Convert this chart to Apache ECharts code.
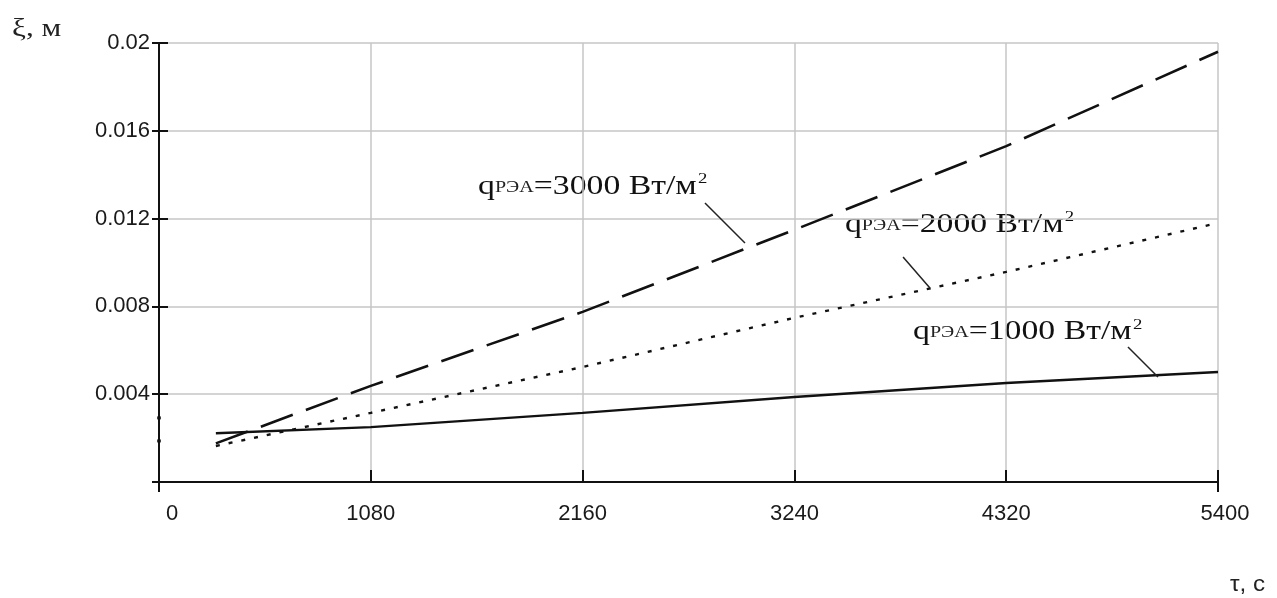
<!DOCTYPE html>
<html>
<head>
<meta charset="utf-8">
<script src="https://cdn.jsdelivr.net/npm/echarts@6/dist/echarts.min.js"></script>
<style>
  html, body { margin: 0; padding: 0; background: #fff; }
  #chart { width: 1277px; height: 598px; }
</style>
</head>
<body>
<div id="chart"></div>
<script>
// Time points, s
const timeS = [290, 1080, 2160, 3240, 4320, 5400];
// Layer thickness ξ, m, for each heat flux density
const xi1000 = [0.00222, 0.00250, 0.00315, 0.00387, 0.00451, 0.00501];
const xi2000 = [0.00164, 0.00315, 0.00524, 0.00748, 0.00957, 0.01180];
const xi3000 = [0.00176, 0.00438, 0.00775, 0.01149, 0.01530, 0.01960];
// Initial values marked on the ξ axis
const startMarks = [0.00292, 0.00187];
// Axis tick labels
const xTickLabels = ['0', '1080', '2160', '3240', '4320', '5400'];
const yTickLabels = ['', '0.004', '0.008', '0.012', '0.016', '0.02'];
// Curve captions: flux value, caption anchor [t, ξ], leader line from/to [t, ξ]
const captions = [
  { q: '3000', at: [1627, 0.01353], from: [2784, 0.01271], to: [2988, 0.01089] },
  { q: '2000', at: [3498, 0.01180], from: [3794, 0.01025], to: [3931, 0.00884] },
  { q: '1000', at: [3845, 0.00692], from: [4941, 0.00615], to: [5094, 0.00478] }
];

const pairs = (ys) => timeS.map((t, i) => [t, ys[i]]);
const leader = (c) => [[{ coord: c.from }, { coord: c.to }]];

const tickFont = 'Liberation Sans';
const serif = 'Liberation Serif';
const ink = '#111';
const labelInk = '#1a1a1a';

const chart = echarts.init(document.getElementById('chart'), null, { renderer: 'canvas' });

const option = {
  animation: false,
  backgroundColor: '#fff',
  grid: { left: 159, right: 59, top: 43, bottom: 116 },
  xAxis: [{
    type: 'value', min: 0, max: 5400, interval: 1080, position: 'bottom', offset: 3,
    axisLine: { show: true, lineStyle: { color: ink, width: 2 } },
    axisTick: { show: true, inside: true, length: 12, lineStyle: { color: ink, width: 2 } },
    splitLine: { show: true, lineStyle: { color: '#c6c6c6', width: 1.5 } },
    axisLabel: {
      margin: 18, fontFamily: tickFont, fontSize: 22, color: labelInk,
      formatter: (v) => {
        const i = Math.round(v / 1080);
        if (i === 0) return '{first|' + xTickLabels[i] + '}';
        if (i === xTickLabels.length - 1) return '{last|' + xTickLabels[i] + '}';
        return xTickLabels[i];
      },
      rich: {
        first: { fontFamily: tickFont, fontSize: 22, color: labelInk, padding: [0, 0, 0, 26] },
        last: { fontFamily: tickFont, fontSize: 22, color: labelInk, padding: [0, 0, 0, 14] }
      }
    }
  }, {
    type: 'value', min: 0, max: 5400, interval: 5400, position: 'bottom', offset: 3,
    axisLine: { show: false },
    axisTick: { show: true, length: 10, lineStyle: { color: ink, width: 2 } },
    axisLabel: { show: false },
    splitLine: { show: false }
  }],
  yAxis: [{
    type: 'value', min: 0, max: 0.02, interval: 0.004, position: 'left',
    axisLine: { show: true, lineStyle: { color: ink, width: 2 } },
    axisTick: { show: true, length: 7, lineStyle: { color: ink, width: 2 } },
    splitLine: { show: true, lineStyle: { color: '#c6c6c6', width: 1.5 } },
    axisLabel: {
      margin: 9, fontFamily: tickFont, fontSize: 22, color: labelInk,
      formatter: (v) => yTickLabels[Math.round(v / 0.004)]
    }
  }, {
    type: 'value', min: 0, max: 0.02, interval: 0.004, position: 'left',
    axisLine: { show: false },
    axisTick: { show: true, inside: true, length: 9, lineStyle: { color: ink, width: 2 } },
    axisLabel: { show: false },
    splitLine: { show: false }
  }],
  series: [
    {
      name: 'q1000', type: 'line', data: pairs(xi1000), showSymbol: false, silent: true,
      lineStyle: { color: ink, width: 2.4, type: 'solid' },
      markLine: { silent: true, symbol: ['none', 'none'], label: { show: false },
        lineStyle: { color: '#222', width: 1.5, type: 'solid' }, data: leader(captions[2]) }
    },
    {
      name: 'q2000', type: 'line', data: pairs(xi2000), showSymbol: false, silent: true,
      lineStyle: { color: ink, width: 2.4, type: [4, 9] },
      markLine: { silent: true, symbol: ['none', 'none'], label: { show: false },
        lineStyle: { color: '#222', width: 1.5, type: 'solid' }, data: leader(captions[1]) }
    },
    {
      name: 'q3000', type: 'line', data: pairs(xi3000), showSymbol: false, silent: true,
      lineStyle: { color: ink, width: 2.6, type: [34, 14] },
      markLine: { silent: true, symbol: ['none', 'none'], label: { show: false },
        lineStyle: { color: '#222', width: 1.5, type: 'solid' }, data: leader(captions[0]) }
    },
    {
      name: 'start', type: 'scatter', data: startMarks.map((v) => [0, v]), silent: true,
      symbol: 'rect', symbolSize: [4, 3], itemStyle: { color: ink }
    }
  ],
  graphic: []
};

chart.setOption(option);

// Captions with subscript and superscript, placed at data anchors
const captionGraphics = captions.map((c) => {
  const p = chart.convertToPixel({ gridIndex: 0 }, c.at);
  return {
    type: 'text', x: p[0], y: p[1], scaleX: 1.25, silent: true,
    style: {
      text: '{q|q}{s|РЭА}{m|=' + c.q + ' Вт/м}{p|2}',
      verticalAlign: 'middle',
      rich: {
        q: { fontFamily: serif, fontSize: 27, fill: '#111', lineHeight: 30, verticalAlign: 'bottom' },
        s: { fontFamily: serif, fontSize: 16, fill: '#222', lineHeight: 30, verticalAlign: 'bottom', padding: [0, 0, 4, 0] },
        m: { fontFamily: serif, fontSize: 27, fill: '#111', lineHeight: 30, verticalAlign: 'bottom' },
        p: { fontFamily: serif, fontSize: 15, fill: '#111', lineHeight: 30, verticalAlign: 'top', padding: [2, 0, 0, 1] }
      }
    }
  };
});

chart.setOption({
  graphic: captionGraphics.concat([
    {
      type: 'text', x: 12, y: 16, scaleX: 1.2, silent: true,
      style: { text: 'ξ, м', fontFamily: serif, fontSize: 26, fill: '#222' }
    },
    {
      type: 'text', x: 1230, y: 574, scaleX: 1.1, silent: true,
      style: { text: 'τ, c', fontFamily: tickFont, fontSize: 22, fill: '#222' }
    }
  ])
});
</script>
</body>
</html>
